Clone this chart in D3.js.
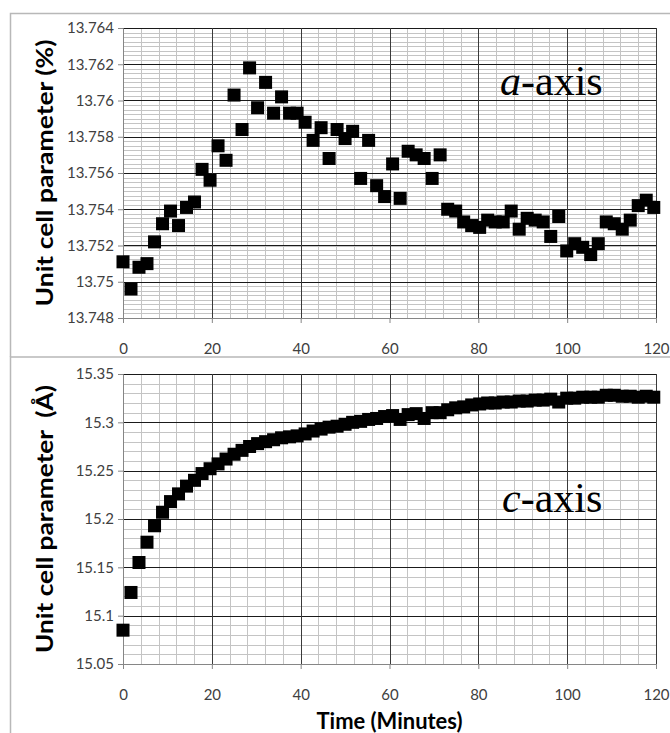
<!DOCTYPE html>
<html>
<head>
<meta charset="utf-8">
<script src="https://cdn.jsdelivr.net/npm/d3@7"></script>
<style>
    body { margin: 0; background: #fff; }
    .tick-label { font-family: Lato, "Open Sans", sans-serif; font-size: 15px; fill: #404040; }
    .axis-title { font-family: Lato, "Open Sans", sans-serif; font-size: 23px; font-weight: bold; fill: #000; }
    .panel-label { font-family: "Liberation Serif", "Times New Roman", serif; font-size: 42px; fill: #000; }
</style>
</head>
<body>
<div id="chart"></div>
<script>
// time of each scan (minutes)
var timeMinutes = [0, 1.8, 3.6, 5.4, 7.1, 8.9, 10.7, 12.5, 14.3, 16.1,
    17.8, 19.6, 21.4, 23.2, 25.0, 26.8, 28.5, 30.3, 32.1, 33.9,
    35.7, 37.5, 39.2, 41.0, 42.8, 44.6, 46.4, 48.2, 50.0, 51.7,
    53.5, 55.3, 57.1, 58.9, 60.7, 62.4, 64.2, 66.0, 67.8, 69.6,
    71.4, 73.1, 74.9, 76.7, 78.5, 80.3, 82.1, 83.8, 85.6, 87.4,
    89.2, 91.0, 92.8, 94.6, 96.3, 98.1, 99.9, 101.7, 103.5, 105.3,
    107.0, 108.8, 110.6, 112.4, 114.2, 116.0, 117.8, 119.5];

// a-axis unit cell parameter
var aAxisValues = [13.7511, 13.7496, 13.7508, 13.7510, 13.7522, 13.7532, 13.7539, 13.7531, 13.7541, 13.7544,
    13.7562, 13.7556, 13.7575, 13.7567, 13.7603, 13.7584, 13.7618, 13.7596, 13.7610, 13.7593,
    13.7602, 13.7593, 13.7593, 13.7588, 13.7578, 13.7585, 13.7568, 13.7584, 13.7579, 13.7583,
    13.7557, 13.7578, 13.7553, 13.7547, 13.7565, 13.7546, 13.7572, 13.7570, 13.7568, 13.7557,
    13.7570, 13.7540, 13.7539, 13.7533, 13.7531, 13.7530, 13.7534, 13.7533, 13.7533, 13.7539,
    13.7529, 13.7535, 13.7534, 13.7533, 13.7525, 13.7536, 13.7517, 13.7521, 13.7519, 13.7515,
    13.7521, 13.7533, 13.7532, 13.7529, 13.7534, 13.7542, 13.7545, 13.7541];

// c-axis unit cell parameter
var cAxisValues = [15.085, 15.124, 15.155, 15.176, 15.193, 15.207, 15.218, 15.226, 15.234, 15.240,
    15.247, 15.252, 15.257, 15.262, 15.267, 15.271, 15.275, 15.278, 15.280, 15.282,
    15.284, 15.285, 15.286, 15.288, 15.291, 15.293, 15.295, 15.296, 15.298, 15.300,
    15.301, 15.303, 15.304, 15.306, 15.307, 15.303, 15.308, 15.309, 15.304, 15.310,
    15.310, 15.313, 15.315, 15.316, 15.318, 15.319, 15.320, 15.320, 15.321, 15.321,
    15.322, 15.322, 15.323, 15.323, 15.324, 15.321, 15.325, 15.325, 15.326, 15.326,
    15.326, 15.328, 15.328, 15.327, 15.327, 15.326, 15.327, 15.326];

var timeTicks = [0, 20, 40, 60, 80, 100, 120];
var aTicks = [13.748, 13.75, 13.752, 13.754, 13.756, 13.758, 13.76, 13.762, 13.764];
var cTicks = [15.05, 15.1, 15.15, 15.2, 15.25, 15.3, 15.35];

class ScatterPanel {
    constructor(_svg, _opts) {
        this.svg = _svg;
        this.opts = _opts;
        this.initVis();
    }
    initVis() {
        var vis = this;
        var o = vis.opts;
        vis.margin = { left: 123, top: o.top };
        vis.width = 533;
        vis.height = 290;

        // outer chart frame (left + top edge, cut off on the right)
        vis.svg.append("path")
            .attr("d", "M10.5," + (o.frameBottom) + "V" + o.frameTop + "H670")
            .attr("fill", "none")
            .attr("stroke", "#b8b8b8")
            .attr("stroke-width", 1.5);

        vis.g = vis.svg.append("g")
            .attr("transform", "translate(" + vis.margin.left + "," + vis.margin.top + ")");

        vis.x = d3.scaleLinear().domain([0, 120]).range([0, vis.width]);
        vis.y = d3.scaleLinear().domain(d3.extent(o.yTicks)).range([vis.height, 0]);

        var yMin = d3.min(o.yTicks), yMax = d3.max(o.yTicks);
        var nMinor = Math.round((yMax - yMin) / o.minorStep);
        var yMinor = d3.range(0, nMinor + 1).map(function (i) { return yMin + i * o.minorStep; });
        var xMinor = d3.range(0, 121, 4);

        // minor grid
        vis.g.append("g").selectAll("line.ym").data(yMinor).enter()
            .append("line")
            .attr("x1", 0).attr("x2", vis.width)
            .attr("y1", function (d) { return Math.round(vis.y(d)) + 0.5; })
            .attr("y2", function (d) { return Math.round(vis.y(d)) + 0.5; })
            .attr("stroke", "#c4c4c4");
        vis.g.append("g").selectAll("line.xm").data(xMinor).enter()
            .append("line")
            .attr("y1", 0).attr("y2", vis.height)
            .attr("x1", function (d) { return Math.round(vis.x(d)) + 0.5; })
            .attr("x2", function (d) { return Math.round(vis.x(d)) + 0.5; })
            .attr("stroke", "#c4c4c4");

        // major grid
        vis.g.append("g").selectAll("line").data(o.yTicks.slice(1)).enter()
            .append("line")
            .attr("x1", 0).attr("x2", vis.width)
            .attr("y1", function (d) { return Math.round(vis.y(d)) + 0.5; })
            .attr("y2", function (d) { return Math.round(vis.y(d)) + 0.5; })
            .attr("stroke", "#1a1a1a");
        vis.g.append("g").selectAll("line").data(timeTicks.slice(1)).enter()
            .append("line")
            .attr("y1", 0).attr("y2", vis.height)
            .attr("x1", function (d) { return Math.round(vis.x(d)) + 0.5; })
            .attr("x2", function (d) { return Math.round(vis.x(d)) + 0.5; })
            .attr("stroke", "#3a3a3a");

        // axes
        vis.yAxisCall = d3.axisLeft(vis.y)
            .tickValues(o.yTicks)
            .tickSize(5)
            .tickPadding(4)
            .tickFormat(function (d) { return String(+d.toFixed(o.decimals)); });
        vis.xAxisCall = d3.axisBottom(vis.x)
            .tickValues(timeTicks)
            .tickSize(5)
            .tickPadding(20)
            .tickFormat(d3.format("d"));
        vis.yAxis = vis.g.append("g").attr("class", "y axis").call(vis.yAxisCall);
        vis.xAxis = vis.g.append("g").attr("class", "x axis")
            .attr("transform", "translate(0," + vis.height + ")")
            .call(vis.xAxisCall);
        vis.g.selectAll(".axis path").attr("stroke", "#868686");
        vis.g.selectAll(".axis line").attr("stroke", "#868686");
        vis.g.selectAll(".axis text").attr("class", "tick-label").attr("fill", null);

        // y title
        vis.g.append("text")
            .attr("class", "axis-title")
            .attr("transform", "rotate(-90)")
            .attr("x", -vis.height / 2)
            .attr("y", -70)
            .attr("text-anchor", "middle")
            .attr("textLength", o.titleLength)
            .attr("lengthAdjust", "spacingAndGlyphs")
            .style("white-space", "pre")
            .text(o.yTitle);

        if (o.xTitle) {
            vis.g.append("text")
                .attr("class", "axis-title")
                .attr("x", vis.width / 2)
                .attr("y", vis.height + 65)
                .attr("text-anchor", "middle")
                .attr("textLength", 146)
                .attr("lengthAdjust", "spacingAndGlyphs")
                .text(o.xTitle);
        }

        // panel label, e.g. "a-axis"
        var lab = vis.g.append("text")
            .attr("class", "panel-label")
            .attr("x", o.labelX)
            .attr("y", o.labelY);
        lab.append("tspan").attr("font-style", "italic").text(o.letter);
        lab.append("tspan").text("-axis");

        vis.updateVis();
    }
    updateVis() {
        var vis = this;
        var pts = vis.opts.values.map(function (v, i) { return { t: timeMinutes[i], v: v }; });
        vis.g.selectAll("rect.pt").data(pts).enter()
            .append("rect")
            .attr("class", "pt")
            .attr("x", function (d) { return vis.x(d.t) - 6.5; })
            .attr("y", function (d) { return vis.y(d.v) - 6.5; })
            .attr("width", 13)
            .attr("height", 13)
            .attr("fill", "#000");
    }
}

var svg = d3.select("#chart").append("svg")
    .attr("width", 670)
    .attr("height", 733);

new ScatterPanel(svg, {
    top: 28, frameTop: 13.5, frameBottom: 357,
    values: aAxisValues, yTicks: aTicks, minorStep: 0.00025, decimals: 3,
    yTitle: "Unit cell parameter (%)", titleLength: 267,
    letter: "a", labelX: 377, labelY: 67
});
new ScatterPanel(svg, {
    top: 374, frameTop: 357, frameBottom: 733,
    values: cAxisValues, yTicks: cTicks, minorStep: 0.01, decimals: 2,
    yTitle: "Unit cell parameter  (Å)", titleLength: 268, xTitle: "Time (Minutes)",
    letter: "c", labelX: 379, labelY: 138
});
</script>
</body>
</html>
